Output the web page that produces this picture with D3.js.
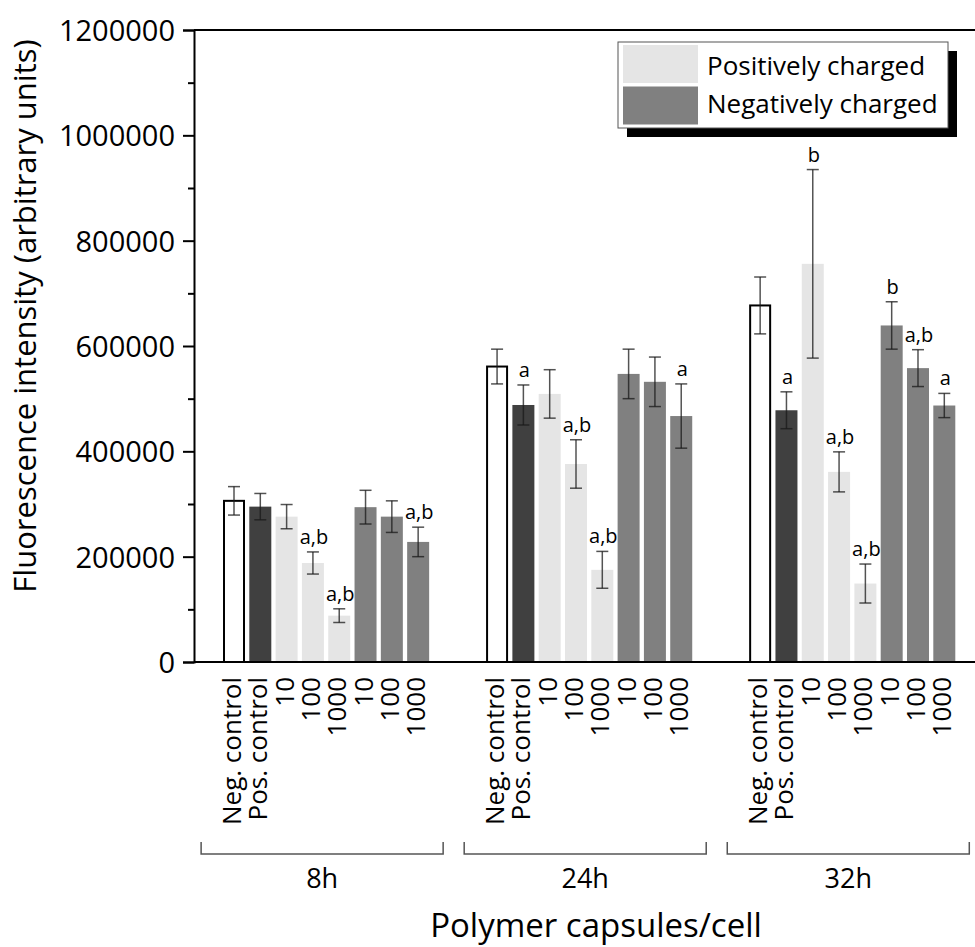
<!DOCTYPE html>
<html>
<head>
<meta charset="utf-8">
<script src="https://cdn.jsdelivr.net/npm/d3@7"></script>
<style>
  html, body { margin: 0; padding: 0; background: #fff; }
  svg { display: block; font-family: "Open Sans", sans-serif; }
</style>
</head>
<body>
<svg id="chart" width="975" height="947"></svg>
<script>
// ---- data ----
const groups = ["8h", "24h", "32h"];
const categories = ["Neg. control", "Pos. control", "10", "100", "1000", "10", "100", "1000"];
const kinds = ["neg", "pos", "plus", "plus", "plus", "minus", "minus", "minus"];
const means8h  = [306000, 295000, 276000, 188000,  88000, 294000, 276000, 228000];
const err8h    = [ 27000,  25000,  23000,  21000,  13000,  32000,  30000,  28000];
const means24h = [561000, 488000, 509000, 376000, 175000, 547000, 532000, 467000];
const err24h   = [ 33000,  38000,  46000,  46000,  35000,  47000,  47000,  61000];
const means32h = [677000, 478000, 756000, 361000, 149000, 639000, 558000, 487000];
const err32h   = [ 54000,  35000, 179000,  38000,  37000,  45000,  35000,  23000];
const sig8h  = ["", "", "", "a,b", "a,b", "", "", "a,b"];
const sig24h = ["", "a", "", "a,b", "a,b", "", "", "a"];
const sig32h = ["", "a", "b", "a,b", "a,b", "b", "a,b", "a"];
const yTicks = [0, 200000, 400000, 600000, 800000, 1000000, 1200000];
const yMinorTicks = [100000, 300000, 500000, 700000, 900000, 1100000];
const legendLabels = ["Positively charged", "Negatively charged"];

const meansAll = [means8h, means24h, means32h];
const errAll = [err8h, err24h, err32h];
const sigAll = [sig8h, sig24h, sig32h];

const fills = { neg: "#ffffff", pos: "#404040", plus: "#e5e5e5", minus: "#808080" };

// ---- layout ----
const svg = d3.select("#chart");
const yTop = 30, yBase = 662, xLeft = 194, xRight = 990;
const slotsPerGroup = 10;
const y = d3.scaleLinear().domain([0, 1200000]).range([yBase, yTop]);
const x = d3.scaleLinear().domain([0, 27]).range([234, 944.3]);
const barW = 22;

const bars = [];
groups.forEach((g, gi) => {
  categories.forEach((c, ci) => {
    bars.push({
      group: g, gi, ci, cat: c, kind: kinds[ci],
      slot: gi * slotsPerGroup + ci,
      v: meansAll[gi][ci], e: errAll[gi][ci], sig: sigAll[gi][ci]
    });
  });
});

// bars
svg.append("g").selectAll("rect").data(bars).join("rect")
  .attr("x", d => x(d.slot) - barW / 2 + (d.kind === "neg" ? 1 : 0))
  .attr("width", d => barW - (d.kind === "neg" ? 2 : 0))
  .attr("y", d => y(d.v))
  .attr("height", d => yBase - y(d.v))
  .attr("fill", d => fills[d.kind])
  .attr("stroke", d => d.kind === "neg" ? "#000" : "none")
  .attr("stroke-width", 2);

// error bars
const eg = svg.append("g").attr("stroke", "#1a1a1a").attr("stroke-opacity", 0.75).attr("stroke-width", 1.5);
bars.forEach(d => {
  const cx = x(d.slot);
  eg.append("line").attr("x1", cx).attr("x2", cx).attr("y1", y(d.v + d.e)).attr("y2", y(d.v - d.e));
  eg.append("line").attr("x1", cx - 6).attr("x2", cx + 6).attr("y1", y(d.v + d.e)).attr("y2", y(d.v + d.e));
  eg.append("line").attr("x1", cx - 6).attr("x2", cx + 6).attr("y1", y(d.v - d.e)).attr("y2", y(d.v - d.e));
});

// significance labels
svg.append("g").selectAll("text").data(bars.filter(d => d.sig)).join("text")
  .attr("x", d => x(d.slot) + 1)
  .attr("y", d => y(d.v + d.e) - 8)
  .attr("text-anchor", "middle")
  .attr("font-size", 20)
  .attr("fill", "#000")
  .text(d => d.sig);

// axes frame
svg.append("line").attr("x1", xLeft).attr("x2", xRight).attr("y1", yBase).attr("y2", yBase)
  .attr("stroke", "#000").attr("stroke-width", 2);
svg.append("line").attr("x1", xLeft).attr("x2", xRight).attr("y1", yTop).attr("y2", yTop)
  .attr("stroke", "#000").attr("stroke-width", 2);

const yAxis = d3.axisLeft(y).tickValues(yTicks).tickSize(11).tickPadding(8).tickFormat(d3.format("d"));
const ya = svg.append("g").attr("transform", `translate(${xLeft},0)`).call(yAxis);
ya.select(".domain").attr("stroke-width", 2);
ya.selectAll(".tick line").attr("stroke-width", 2);
ya.selectAll(".tick text").attr("font-size", 29).attr("font-family", "Open Sans").attr("fill", "#000").attr("dy", "0.36em");

const yMinor = d3.axisLeft(y).tickValues(yMinorTicks).tickSize(6).tickFormat("");
const ym = svg.append("g").attr("transform", `translate(${xLeft},0)`).call(yMinor);
ym.select(".domain").remove();
ym.selectAll(".tick line").attr("stroke-width", 2);

// y title
svg.append("text")
  .attr("transform", "translate(36,316) rotate(-90)")
  .attr("text-anchor", "middle")
  .attr("font-size", 31)
  .attr("fill", "#000")
  .text("Fluorescence intensity (arbitrary units)");

// x category labels
svg.append("g").selectAll("text").data(bars).join("text")
  .attr("transform", d => `translate(${x(d.slot) + 7},677) rotate(-90)`)
  .attr("text-anchor", "end")
  .attr("font-size", 26)
  .attr("fill", "#000")
  .text(d => d.cat);

// group brackets
const bg = svg.append("g").attr("stroke", "#555").attr("stroke-width", 1.5).attr("fill", "none");
groups.forEach((g, gi) => {
  const x0 = x(gi * slotsPerGroup - 1.25), x1 = x(gi * slotsPerGroup + 7.95);
  bg.append("path").attr("d", `M${x0},842 V854 H${x1} V842`);
  svg.append("text")
    .attr("x", (x0 + x1) / 2).attr("y", 888)
    .attr("text-anchor", "middle").attr("font-size", 27).attr("fill", "#000")
    .text(g);
});

// x title
svg.append("text")
  .attr("x", 596).attr("y", 937)
  .attr("text-anchor", "middle").attr("font-size", 33).attr("fill", "#000")
  .text("Polymer capsules/cell");

// legend
const lg = svg.append("g");
lg.append("rect").attr("x", 627).attr("y", 51).attr("width", 330).attr("height", 86).attr("fill", "#000");
lg.append("rect").attr("x", 618).attr("y", 42).attr("width", 330).attr("height", 86)
  .attr("fill", "#fff").attr("stroke", "#555").attr("stroke-width", 1);
const legendFills = [fills.plus, fills.minus];
legendLabels.forEach((t, i) => {
  lg.append("rect").attr("x", 623).attr("y", 45 + i * 41.5).attr("width", 75).attr("height", 38).attr("fill", legendFills[i]);
  lg.append("text").attr("x", 707).attr("y", 75 + i * 38).attr("font-size", 26).attr("fill", "#000").text(t);
});
</script>
</body>
</html>
